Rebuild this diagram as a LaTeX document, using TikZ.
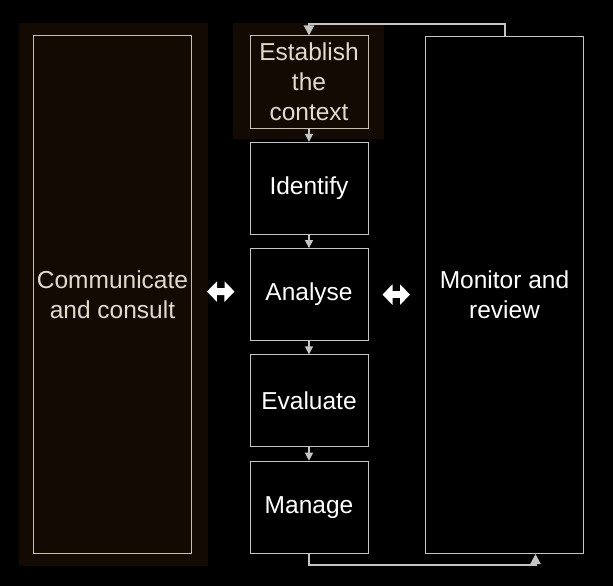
\documentclass[tikz,border=0pt]{standalone}
\usepackage{fontspec}
\setmainfont{Liberation Sans}
\usetikzlibrary{arrows.meta, positioning}
\definecolor{panelbrown}{HTML}{130B03}
\definecolor{beige}{HTML}{C8BDB0}
\definecolor{beigetext}{HTML}{E3D9CC}
\definecolor{linegray}{HTML}{C4C4C4}

\begin{document}
\begin{tikzpicture}[
    x=1pt, y=-1pt,
    node distance=13.3pt,
    font=\fontsize{24.5}{30}\selectfont,
    step box/.style={rectangle, minimum width=118pt, minimum height=92pt, align=center, draw=linegray, line width=1pt, text=white, inner sep=0pt},
    side box/.style={rectangle, minimum width=158pt, minimum height=517pt, align=center, line width=1pt, inner sep=0pt},
    flow/.style={linegray, line width=1.3pt, -{Triangle[width=8pt,length=8pt]}},
    loop/.style={linegray, line width=2pt, -{Triangle[width=10pt,length=10pt]}},
    both/.style={white, line width=7pt, {Triangle[width=20pt,length=10pt]}-{Triangle[width=20pt,length=10pt]}}
]

% background and panels
\fill[black] (0,0) rectangle (613,586);
\useasboundingbox (0,0) rectangle (613,586);
\fill[panelbrown] (19,23) rectangle (208,566);
\fill[panelbrown] (233,23) rectangle (384,139);

\node (context) [step box, draw=beige, text=beigetext] at (309,82) {Establish\\the\\context};
\node (identify) [step box, below=of context] {Identify};
\node (analyse) [step box, below=of identify] {Analyse};
\node (evaluate) [step box, below=of analyse] {Evaluate};
\node (manage) [step box, below=of evaluate] {Manage};

\node (comm) [side box, draw=beige, text=beigetext] at (112.5,294.5) {Communicate\\and consult};
\node (monitor) [side box, draw=linegray, text=white] at (504.5,295) {Monitor and\\review};

\draw [flow] (context) -- (identify);
\draw [flow] (identify) -- (analyse);
\draw [flow] (analyse) -- (evaluate);
\draw [flow] (evaluate) -- (manage);

\draw [both, shorten <=15pt, shorten >=15pt] ([yshift=3pt]comm.east) -- ([yshift=3pt]analyse.west);
\draw [both, shorten <=14pt, shorten >=15pt] (analyse.east) -- (monitor.west |- analyse.east);

\draw [loop] (monitor.north) -- ++(0,-12) -| (context.north);
\draw [loop] (manage.south) -- ++(0,11) -| ([xshift=31pt]monitor.south);

\end{tikzpicture}
\end{document}
